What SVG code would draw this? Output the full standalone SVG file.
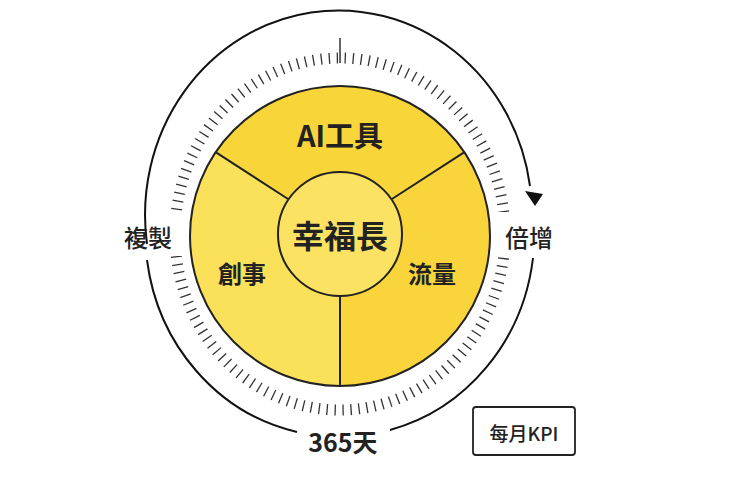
<svg xmlns="http://www.w3.org/2000/svg" width="740" height="493" viewBox="0 0 740 493">
<style>
text{font-family:"Noto Sans CJK TC","Noto Sans CJK SC",sans-serif;fill:#222;text-anchor:middle;dominant-baseline:central}
.ln{stroke:#222;stroke-width:2;fill:none}
.arc{stroke:#111;stroke-width:2;fill:none}
</style>
<rect width="740" height="493" fill="#fff"/>
<g id="ticks">
<ellipse cx="340" cy="234" rx="165" ry="176" fill="none" stroke="#333" stroke-width="11" stroke-dasharray="1.3 6.7"/>
<rect x="150" y="212" width="35" height="44" fill="#fff"/>
<rect x="495" y="212" width="35" height="44" fill="#fff"/>
<line x1="340" y1="38" x2="340" y2="63" stroke="#333" stroke-width="1.5"/>
</g>
<g id="connectors">
<path class="arc" d="M147,244 A193,204 0 1 1 530,186"/>
<polygon points="525,191 543,194 535,206" fill="#111"/>
<path class="arc" d="M533,258 A193,204 0 0 1 390,430"/>
<path class="arc" d="M297,432 A193,204 0 0 1 147,260"/>
</g>
<g id="wheel">
<path d="M340,236 L215.6,152.1 A150,150 0 0 1 464.4,152.1 Z" fill="#F8D63A"/>
<path d="M340,236 L340,386 A150,150 0 0 1 215.6,152.1 Z" fill="#FBE05A"/>
<path d="M340,236 L464.4,152.1 A150,150 0 0 1 340,386 Z" fill="#F9D43A"/>
<circle cx="340" cy="236" r="150" class="ln"/>
<line class="ln" x1="215.6" y1="152.1" x2="288" y2="199"/>
<line class="ln" x1="464.4" y1="152.1" x2="392" y2="199"/>
<line class="ln" x1="340" y1="297" x2="340" y2="386"/>
</g>
<g id="node-ai"><text x="340" y="134" font-size="29" font-weight="bold">AI工具</text></g>
<g id="node-create"><text x="242" y="272" font-size="24" font-weight="bold">創事</text></g>
<g id="node-traffic"><text x="432" y="272" font-size="24" font-weight="bold">流量</text></g>
<g id="node-center">
<circle cx="340" cy="234" r="62" fill="#FCE262" stroke="#222" stroke-width="2"/>
<text x="340" y="234" font-size="32" font-weight="bold">幸福長</text>
</g>
<g id="label-copy"><text x="148" y="236" font-size="24" font-weight="500">複製</text></g>
<g id="label-double"><text x="529" y="236" font-size="24" font-weight="500">倍增</text></g>
<g id="label-days"><text x="343" y="441" font-size="25" font-weight="bold">365天</text></g>
<g id="label-kpi">
<rect x="473" y="407" width="102" height="48" rx="3" fill="#fff" stroke="#222" stroke-width="1.8"/>
<text x="524" y="432" font-size="19" font-weight="500">每月KPI</text>
</g>
</svg>
